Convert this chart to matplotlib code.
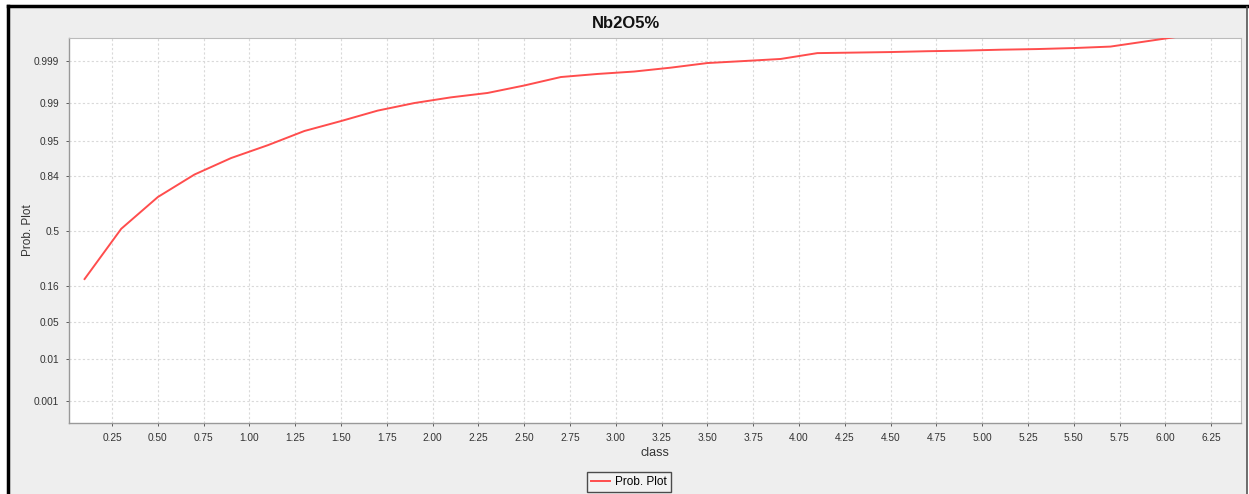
from statistics import NormalDist
import matplotlib
matplotlib.use("Agg")
import matplotlib.pyplot as plt
from matplotlib.patches import Rectangle
from matplotlib.lines import Line2D

# class midpoints and cumulative probability for Nb2O5 %
classes = [0.1, 0.3, 0.5, 0.7, 0.9, 1.1, 1.3, 1.5, 1.7, 1.9, 2.1, 2.3, 2.5, 2.7,
           2.9, 3.1, 3.3, 3.5, 3.7, 3.9, 4.1, 4.3, 4.5, 4.7, 4.9, 5.1, 5.3, 5.5,
           5.7, 6.1]
cum_prob = [0.1913, 0.516, 0.7317, 0.8478, 0.9077, 0.9406, 0.9655, 0.9772,
            0.9857, 0.9900, 0.99245, 0.99396, 0.99592, 0.99744, 0.99785,
            0.99813, 0.99851, 0.99887, 0.99900, 0.99912, 0.99939, 0.99941,
            0.99943, 0.99946, 0.99948, 0.99951, 0.99953, 0.99956, 0.99960,
            0.999806]

prob_ticks = [0.001, 0.01, 0.05, 0.16, 0.5, 0.84, 0.95, 0.99, 0.999]
prob_labels = ["0.001", "0.01", "0.05", "0.16", "0.5", "0.84", "0.95", "0.99", "0.999"]
x_ticks = [0.25 * i for i in range(1, 26)]

nd = NormalDist()
scores = [nd.inv_cdf(p) for p in cum_prob]
tick_scores = [nd.inv_cdf(p) for p in prob_ticks]

plt.rcParams["font.family"] = ["Liberation Sans", "DejaVu Sans"]

W, H = 1249, 494
fig = plt.figure(figsize=(W / 100, H / 100), dpi=100, facecolor="white")

# panel background with dark frame on the top and left
fig.patches.append(Rectangle((8 / W, 0), (1247 - 8) / W, (H - 6) / H,
                             transform=fig.transFigure, facecolor="#eeeeee",
                             edgecolor="none", zorder=-5))
fig.add_artist(Line2D([8 / W, 1249 / W], [1 - 6 / H, 1 - 6 / H],
                      color="black", lw=2.5, transform=fig.transFigure))
fig.add_artist(Line2D([8 / W, 8 / W], [0, 1 - 6 / H],
                      color="black", lw=2.5, transform=fig.transFigure))
fig.add_artist(Line2D([1247 / W, 1247 / W], [0, 1 - 7 / H],
                      color="#555555", lw=1.2, transform=fig.transFigure))

ax = fig.add_axes([69 / W, 1 - 423 / H, (1241 - 69) / W, (423 - 38) / H])
ax.set_facecolor("white")

ax.plot(classes, scores, color="#ff4d4d", lw=1.4, label="Prob. Plot", zorder=3)

ax.set_xlim(0.015, 6.413)
ax.set_ylim(-3.49, 3.509)
ax.set_xticks(x_ticks)
ax.set_xticklabels([f"{t:.2f}" for t in x_ticks])
ax.set_yticks(tick_scores)
ax.set_yticklabels(prob_labels)
ax.tick_params(axis="both", labelsize=7.3, colors="#444444", labelcolor="#333333",
               length=2, width=0.6, pad=5)

ax.grid(True, color="#d9d9d9", lw=0.8, linestyle=(0, (2, 2)))
ax.set_axisbelow(True)
for side in ["left", "bottom"]:
    ax.spines[side].set_color("#999999")
    ax.spines[side].set_linewidth(1.0)
for side in ["top", "right"]:
    ax.spines[side].set_color("#bbbbbb")
    ax.spines[side].set_linewidth(0.8)

ax.set_xlabel("class", fontsize=9, color="#333333")
ax.xaxis.set_label_coords(0.5, -(453 - 423) / (423 - 38), transform=ax.transAxes)
ax.xaxis.label.set_va("center")
ax.set_ylabel("Prob. Plot", fontsize=8.5, color="#333333")
ax.yaxis.set_label_coords(-(69 - 28) / (1241 - 69), 0.5, transform=ax.transAxes)
ax.yaxis.label.set_va("center")

fig.text(626 / W, 1 - 23 / H, "Nb2O5%", ha="center", va="center",
         fontsize=12, fontweight="bold", color="#111111")

leg = fig.legend(loc="center", bbox_to_anchor=(629 / W, 1 - 482 / H),
                 fontsize=8.5, frameon=True, fancybox=False, handlelength=1.6,
                 handletextpad=0.4, borderpad=0.35, borderaxespad=0)
leg.get_frame().set_edgecolor("#222222")
leg.get_frame().set_facecolor("#f4f4f4")
leg.get_frame().set_linewidth(1.0)

fig.savefig("out.png", dpi=100, facecolor=fig.get_facecolor())
